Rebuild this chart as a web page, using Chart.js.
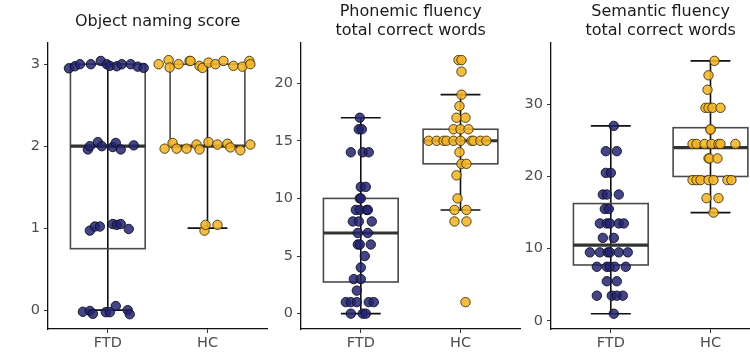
<!DOCTYPE html>
<html lang="en">
<head>
<meta charset="UTF-8">
<title>FTD vs HC language scores</title>
<script src="https://cdn.jsdelivr.net/npm/chart.js@4.4.1/dist/chart.umd.min.js"></script>
<style>
  body { margin: 0; background: #fff; }
  #wrap { position: relative; width: 750px; height: 352px; overflow: hidden; }
  #wrap canvas { position: absolute; top: 0; }
</style>
</head>
<body>
<div id="wrap">
  <canvas id="naming" width="273" height="352" style="left:0px"></canvas>
  <canvas id="phonemic" width="273" height="352" style="left:253px"></canvas>
  <canvas id="semantic" width="273" height="352" style="left:503px"></canvas>
</div>
<script>
// categories
const groups = ['FTD', 'HC'];

// --- Object naming score ---
const namingTicks = [0, 1, 2, 3];
const namingFtdY = [2.95, 2.975, 3.0, 3.0, 3.04, 3.0, 2.98, 2.975, 3.0, 3.0, 2.97, 2.955,
                    1.96, 2.0, 2.05, 2.0, 1.99, 2.04, 1.96, 2.01,
                    0.97, 1.02, 1.02, 1.05, 1.04, 1.05, 0.99,
                    -0.02, -0.01, -0.045, -0.025, -0.025, 0.05, 0.0, -0.05];
const namingFtdJit = [-0.39, -0.33, -0.28, -0.17, -0.07, -0.01, 0.02, 0.09, 0.14, 0.23, 0.30, 0.36,
                      -0.20, -0.18, -0.10, -0.06, 0.05, 0.08, 0.13, 0.26,
                      -0.18, -0.13, -0.08, 0.05, 0.09, 0.13, 0.21,
                      -0.25, -0.18, -0.15, -0.02, 0.02, 0.08, 0.20, 0.22];
const namingHcY = [3.0, 3.05, 2.96, 3.0, 3.04, 3.04, 2.98, 2.955, 3.02, 3.0, 3.04, 2.98, 2.97, 3.04, 3.0,
                   1.97, 2.04, 1.97, 1.97, 2.02, 1.96, 2.05, 2.02, 2.03, 1.985, 1.95, 2.02,
                   0.97, 1.04, 1.04];
const namingHcJit = [-0.49, -0.39, -0.38, -0.29, -0.18, -0.17, -0.08, -0.05, 0.01, 0.08, 0.16, 0.26, 0.35, 0.42, 0.43,
                     -0.43, -0.35, -0.31, -0.21, -0.11, -0.08, 0.01, 0.10, 0.20, 0.23, 0.33, 0.43,
                     -0.03, -0.02, 0.10];
// [lower whisker, Q1, median, Q3, upper whisker]
const namingFtdBox = [0, 0.75, 2, 3, 3];
const namingHcBox = [1, 2, 2, 3, 3];

// --- Phonemic fluency ---
const phonTicks = [0, 5, 10, 15, 20];
const phonFtdY = [17, 16, 16, 14, 14, 14, 11, 11, 10, 10, 9, 9, 9, 9, 8, 8, 8, 7, 7,
                  6, 6, 6, 5, 4, 3, 3, 2, 1, 1, 1, 1, 1, 0, 0, 0];
const phonFtdJit = [-0.01, -0.02, 0.01, -0.10, 0.02, 0.08, 0.0, 0.05, -0.01, 0.0,
                    -0.05, -0.01, 0.06, 0.07, -0.08, -0.02, 0.11, -0.03, 0.07,
                    -0.03, -0.01, 0.10, 0.04, 0.0, -0.07, 0.0, -0.04,
                    -0.15, -0.10, -0.04, 0.08, 0.13, -0.10, 0.02, 0.05];
const phonHcY = [22, 22, 21, 19, 18, 17, 17, 16, 16, 16,
                 15, 15, 15, 15, 15, 15, 15, 15, 15, 15,
                 14, 13, 13, 12, 10, 9, 9, 8, 8, 1];
const phonHcJit = [-0.02, 0.01, 0.01, 0.01, -0.01, -0.04, 0.05, -0.07, 0.0, 0.08,
                   -0.32, -0.24, -0.17, -0.14, -0.07, 0.0, 0.11, 0.13, 0.20, 0.26,
                   -0.01, 0.01, 0.06, -0.04, -0.03, -0.06, 0.06, -0.06, 0.06, 0.05];
const phonFtdBox = [0, 2.75, 7, 10, 17];
const phonHcBox = [9, 13, 15, 16, 19];

// --- Semantic fluency ---
const semTicks = [0, 10, 20, 30];
const semFtdY = [27, 23.5, 23.5, 20.5, 20.5, 17.5, 17.5, 17.5, 15.5, 15.5,
                 13.5, 13.5, 13.5, 13.5, 13.5, 11.5, 11.5,
                 9.5, 9.5, 9.5, 9.5, 9.5, 9.5, 7.5, 7.5, 7.5, 7.5, 7.5,
                 5.5, 5.5, 3.5, 3.5, 3.5, 3.5, 1];
const semFtdJit = [0.03, -0.05, 0.06, -0.05, 0.0, -0.08, -0.04, 0.08, -0.06, -0.02,
                   -0.11, -0.04, -0.01, 0.08, 0.13, -0.08, 0.03,
                   -0.21, -0.11, -0.03, -0.01, 0.08, 0.17, -0.14, -0.04, -0.01, 0.04, 0.15,
                   -0.04, 0.06, -0.14, 0.01, 0.06, 0.12, 0.03];
const semHcY = [36, 34, 32, 29.5, 29.5, 29.5, 29.5, 26.5, 26.5,
                24.5, 24.5, 24.5, 24.5, 24.5, 24.5, 24.5, 22.5, 22.5, 22.5,
                19.5, 19.5, 19.5, 19.5, 19.5, 19.5, 19.5, 17, 17, 15];
const semHcJit = [0.04, -0.02, -0.03, -0.05, -0.02, 0.02, 0.10, 0.0, 0.0,
                  -0.18, -0.14, -0.06, 0.01, 0.08, 0.10, 0.25, -0.02, -0.01, 0.07,
                  -0.18, -0.14, -0.10, -0.02, 0.03, 0.17, 0.21, -0.04, 0.08, 0.03];
const semFtdBox = [1, 7.75, 10.5, 16.25, 27];
const semHcBox = [15, 20, 24, 26.75, 36];

Chart.defaults.font.family = "'DejaVu Sans', sans-serif";
Chart.defaults.color = '#4d4d4d';

// draws errorbars, boxes and medians under the points
const boxPlugin = {
    id: 'boxplot',
    beforeDatasetsDraw(chart, args, opts) {
        const ctx = chart.ctx;
        const x = chart.scales.x, y = chart.scales.y;
        opts.boxes.forEach((b, i) => {
            const c = i + 1;
            ctx.save();
            ctx.strokeStyle = '#111';
            ctx.lineWidth = 1.6;
            ctx.beginPath();
            ctx.moveTo(x.getPixelForValue(c), y.getPixelForValue(b[0]));
            ctx.lineTo(x.getPixelForValue(c), y.getPixelForValue(b[4]));
            [b[0], b[4]].forEach(v => {
                ctx.moveTo(x.getPixelForValue(c - 0.2), y.getPixelForValue(v));
                ctx.lineTo(x.getPixelForValue(c + 0.2), y.getPixelForValue(v));
            });
            ctx.stroke();
            const l = x.getPixelForValue(c - 0.375), r = x.getPixelForValue(c + 0.375);
            ctx.strokeStyle = '#4a4a4a';
            ctx.lineWidth = 1.6;
            ctx.strokeRect(l, y.getPixelForValue(b[3]), r - l, y.getPixelForValue(b[1]) - y.getPixelForValue(b[3]));
            ctx.strokeStyle = '#333';
            ctx.lineWidth = 3.2;
            ctx.beginPath();
            ctx.moveTo(l, y.getPixelForValue(b[2]));
            ctx.lineTo(r, y.getPixelForValue(b[2]));
            ctx.stroke();
            ctx.restore();
        });
    }
};

function makePanel(id, title, yMin, yMax, yTicks, ftdY, ftdJit, hcY, hcJit, ftdBox, hcBox) {
    const twoLines = Array.isArray(title);
    return new Chart(document.getElementById(id), {
        type: 'scatter',
        data: {
            datasets: [
                {
                    data: ftdY.map((v, i) => ({ x: 1 + ftdJit[i], y: v })),
                    backgroundColor: 'rgba(35, 37, 112, 0.85)',
                    borderColor: 'rgba(15, 15, 40, 0.9)',
                    borderWidth: 1,
                    pointRadius: 4.7
                },
                {
                    data: hcY.map((v, i) => ({ x: 2 + hcJit[i], y: v })),
                    backgroundColor: 'rgba(242, 181, 40, 0.88)',
                    borderColor: 'rgba(70, 50, 10, 0.9)',
                    borderWidth: 1,
                    pointRadius: 4.7
                }
            ]
        },
        options: {
            responsive: false,
            animation: false,
            devicePixelRatio: 1,
            layout: { padding: 0 },
            scales: {
                x: {
                    type: 'linear',
                    min: 0.4,
                    max: 2.6,
                    afterBuildTicks: s => { s.ticks = groups.map((g, i) => ({ value: i + 1 })); },
                    afterFit: s => { s.height = 23; },
                    ticks: {
                        callback: v => groups[v - 1],
                        font: { size: 14.5 },
                        color: '#4d4d4d',
                        padding: 2,
                        maxRotation: 0
                    },
                    grid: { drawOnChartArea: false, tickLength: 4, tickColor: '#333' },
                    border: { color: '#111', width: 1.3 }
                },
                y: {
                    min: yMin,
                    max: yMax,
                    afterBuildTicks: s => { s.ticks = yTicks.map(v => ({ value: v })); },
                    afterFit: s => { s.width = 48; },
                    ticks: { font: { size: 14.5 }, color: '#4d4d4d', padding: 4 },
                    grid: { drawOnChartArea: false, tickLength: 4, tickColor: '#333' },
                    border: { color: '#111', width: 1.3 }
                }
            },
            plugins: {
                legend: { display: false },
                tooltip: { enabled: false },
                title: {
                    display: true,
                    text: title,
                    fullSize: false,
                    color: '#1a1a1a',
                    font: { size: 16, weight: 'normal', lineHeight: 1.15 },
                    padding: twoLines ? { top: 3, bottom: 3 } : { top: 12.5, bottom: 12 }
                },
                boxplot: { boxes: [ftdBox, hcBox] }
            }
        },
        plugins: [boxPlugin]
    });
}

makePanel('naming', 'Object naming score', -0.23, 3.26, namingTicks,
    namingFtdY, namingFtdJit, namingHcY, namingHcJit, namingFtdBox, namingHcBox);
makePanel('phonemic', ['Phonemic fluency', 'total correct words'], -1.33, 23.5, phonTicks,
    phonFtdY, phonFtdJit, phonHcY, phonHcJit, phonFtdBox, phonHcBox);
makePanel('semantic', ['Semantic fluency', 'total correct words'], -1.11, 38.5, semTicks,
    semFtdY, semFtdJit, semHcY, semHcJit, semFtdBox, semHcBox);
</script>
</body>
</html>
